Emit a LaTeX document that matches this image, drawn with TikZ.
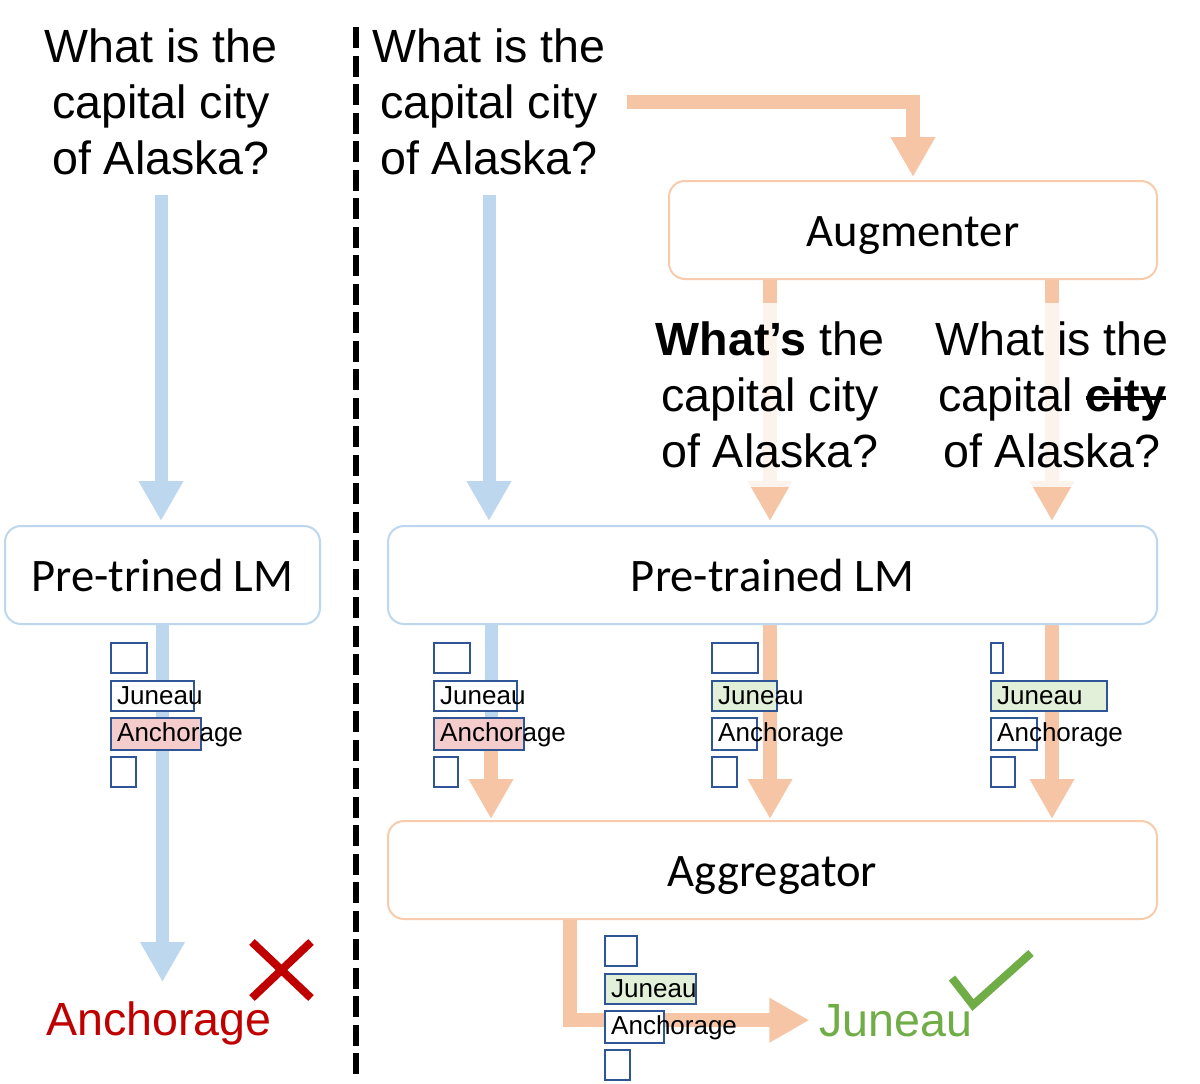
\documentclass[tikz,border=0pt]{standalone}
\usepackage{fontspec}
\setmainfont{Liberation Sans}
\newfontfamily\boxfont{Carlito}
\usepackage{tikz}
\usetikzlibrary{arrows.meta, positioning, calc, backgrounds}
\definecolor{arrowblue}{HTML}{BDD7EE}
\definecolor{arroworange}{HTML}{F6C5A5}
\definecolor{boxblue}{HTML}{BDD7EE}
\definecolor{boxorange}{HTML}{F8CBAD}
\definecolor{barblue}{HTML}{2F5597}
\definecolor{pinkfill}{HTML}{F4CCCC}
\definecolor{greenfill}{HTML}{E2F0D9}
\definecolor{ansred}{HTML}{C00000}
\definecolor{ansgreen}{HTML}{70AD47}
\tikzset{
    qtext/.style={align=center, inner sep=0pt, font=\fontsize{46.6}{56}\selectfont},
    augtext/.style={qtext, fill=white, fill opacity=0.8, text opacity=1, inner xsep=4pt, inner ysep=19pt},
    lmbox/.style={rectangle, rounded corners=16pt, draw=boxblue, line width=2pt, fill=white, minimum height=98pt, text height=36pt, text depth=4pt, font=\boxfont\fontsize{46.6}{56}\selectfont},
    opbox/.style={lmbox, draw=boxorange},
    answer/.style={inner sep=0pt, anchor=base, font=\fontsize{46.6}{56}\selectfont},
    bluearrow/.style={draw=arrowblue, line width=13pt, -{Triangle[width=42pt,length=40pt]}},
    bluelane/.style={draw=arrowblue, line width=13pt},
    orarrow/.style={draw=arroworange, line width=14pt, -{Triangle[width=42pt,length=40pt]}},
    tokbar/.style={draw=barblue, line width=2.2pt, fill=white},
    toklabel/.style={anchor=west, inner sep=0pt, font=\fontsize{26}{30}\selectfont},
    verdict/.style={line width=8pt}
}
% token bars: name, x, y, four widths, fill of 2nd and 3rd bar
\newcommand{\tokbars}[9]{%
    \draw[tokbar] (#2,#3) rectangle ++(#4,30);
    \draw[tokbar, fill=#8] (#2,#3+38) rectangle ++(#5,30);
    \draw[tokbar, fill=#9] (#2,#3+75) rectangle ++(#6,32);
    \draw[tokbar] (#2,#3+114) rectangle ++(#7,30);
    \node[toklabel] (#1-j) at (#2+6,#3+53) {Juneau};
    \node[toklabel] (#1-a) at (#2+6,#3+92) {Anchorage};
}
\newcommand{\strk}[1]{\setbox0\hbox{#1}\rlap{\rule[0.26em]{\wd0}{0.07em}}\box0}

\begin{document}
\begin{tikzpicture}[x=1pt, y=-1pt]
    \useasboundingbox (0,0) rectangle (1200,1084);

    % left: plain LM
    \node[qtext] (qL) at (161,102) {What is the\\capital city\\of Alaska?};
    \node[lmbox, minimum width=315pt] (lmL) at (162.5,575) {Pre-trined LM};
    \node[answer, text=ansred] (ansL) at (159,1035) {Anchorage};

    % right: augment and aggregate
    \node[qtext] (qR) at (489,102) {What is the\\capital city\\of Alaska?};
    \node[opbox, minimum width=488pt] (aug) at (913,230) {Augmenter};
    \node[augtext] (midq) at (770,395) {\textbf{What’s} the\\capital city\\of Alaska?};
    \node[augtext] (rightq) at (1052,395) {What is the\\capital \strk{\textbf{city}}\\of Alaska?};
    \node[lmbox, minimum width=769pt] (lmR) at (772.5,575) {Pre-trained LM};
    \node[opbox, minimum width=769pt] (agg) at (772.5,870) {Aggregator};
    \node[answer, text=ansgreen] (ansR) at (896,1036) {Juneau};

    \coordinate (mixL) at (491,735);
    \coordinate (aggout) at (570,919);

    \begin{scope}[on background layer]
        \fill[white] (0,0) rectangle (1200,1084);
        \draw[bluearrow, shorten <=20pt, shorten >=4pt] (qL.south) -- (qL.south |- lmL.north);
        \draw[bluearrow, shorten >=19pt] (lmL.south) -- (lmL.south |- ansL.north);
        \draw[bluearrow, shorten <=20pt, shorten >=4pt] (qR.south) -- (qR.south |- lmR.north);
        \draw[orarrow, shorten <=21pt, shorten >=3pt] (qR.east) -| (aug.north);
        \draw[orarrow, shorten >=4pt] (midq |- aug.south) -- (midq |- lmR.north);
        \draw[orarrow, shorten >=4pt] (rightq |- aug.south) -- (rightq |- lmR.north);
        \draw[bluelane] (mixL |- lmR.south) -- (mixL);
        \draw[orarrow, shorten >=1pt] (mixL) -- (mixL |- agg.north);
        \draw[orarrow, shorten >=1pt] (midq |- lmR.south) -- (midq |- agg.north);
        \draw[orarrow, shorten >=1pt] (rightq |- lmR.south) -- (rightq |- agg.north);
        \draw[orarrow, shorten >=10pt] (aggout) |- (ansR.west);
    \end{scope}

    % token scores
    \tokbars{bL}{111}{643}{36}{83}{90}{25}{white}{pinkfill}
    \tokbars{bA}{434}{643}{36}{83}{90}{24}{white}{pinkfill}
    \tokbars{bB}{712}{643}{46}{65}{45}{25}{greenfill}{white}
    \tokbars{bC}{991}{643}{12}{116}{46}{24}{greenfill}{white}
    \tokbars{bO}{605}{936}{32}{91}{59}{25}{greenfill}{white}

    % verdicts
    \draw[verdict, ansred] (252,942) -- (311,998) (311,942) -- (252,998);
    \draw[verdict, ansgreen] (952,978) -- (973,1005) -- (1031,953);

    % separator
    \draw[line width=6pt, dash pattern=on 21pt off 7.5pt] (356,27) -- (356,1075);
\end{tikzpicture}
\end{document}
